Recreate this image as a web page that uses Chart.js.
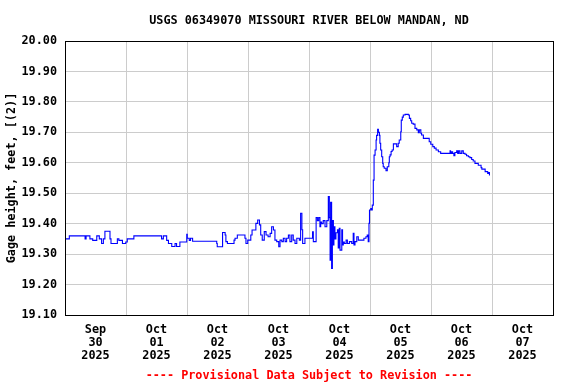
<!DOCTYPE html>
<html>
<head>
<meta charset="utf-8">
<script src="https://cdn.jsdelivr.net/npm/chart.js@4/dist/chart.umd.min.js"></script>
<style>
  html, body { margin: 0; padding: 0; background: #ffffff; }
  #wrap { width: 576px; height: 384px; }
</style>
</head>
<body>
<div id="wrap"><canvas id="grafica" width="576" height="384"></canvas></div>
<script>
// Titulos
const chartTitle = "USGS 06349070 MISSOURI RIVER BELOW MANDAN, ND";
const footerText = "---- Provisional Data Subject to Revision ----";
const yTitle = "Gage height, feet, [(2)]";

// Etiquetas de dias (centradas al mediodia)
const dayLabels = [
    ["Sep", "30", "2025"],
    ["Oct", "01", "2025"],
    ["Oct", "02", "2025"],
    ["Oct", "03", "2025"],
    ["Oct", "04", "2025"],
    ["Oct", "05", "2025"],
    ["Oct", "06", "2025"],
    ["Oct", "07", "2025"]
];

// Horas desde Sep 30 00:00
const hours = [
    0, 1.7, 7.9, 8.3, 9.8, 10.9, 12.5, 13.5, 14.4, 15.1, 15.7, 17.7, 18.1, 20.6, 21.2, 22.6, 23.9,
    24.5, 27.1, 34.1, 38.0, 38.7, 40.0, 40.7, 42.0, 43.3, 43.9, 45.2, 46.2, 47.9,
    48.1, 48.9, 49.4, 50.2, 51.5, 59.7, 59.9, 60.3, 62.0, 62.6, 63.0, 63.3, 63.9, 64.7, 66.5, 66.9,
    67.8, 68.9, 70.8, 71.2, 71.9, 72.4, 73.1, 73.6, 74.4, 75.1, 75.8, 76.5, 77.0, 77.6, 78.4, 79.1,
    79.9, 80.7, 81.3, 82.0, 82.6, 83.3, 84.1, 84.6, 85.3, 85.9, 86.6, 87.2, 87.9, 88.5, 89.2, 89.8,
    90.5, 91.2, 92.2, 92.7, 93.2, 93.5, 93.9, 94.4, 95.1,
    97.4, 97.7, 98.1, 98.8, 99.3, 99.8, 100.3, 100.6, 101.0, 101.6, 102.3, 103.0, 103.6, 104.0,
    104.3, 104.5, 104.9, 105.2, 105.6, 105.8, 106.2, 106.6, 107.2, 107.5, 107.9, 108.2, 108.9,
    109.2, 109.5, 109.9, 110.6, 111.1, 111.9, 112.8, 113.4, 113.7, 114.1, 114.8, 115.4, 115.8,
    117.6, 118.4, 118.9, 119.3, 119.6,
    119.8, 120.3, 120.7, 120.9, 121.3, 121.6, 122.0, 122.4, 122.6, 123.0, 123.3, 123.7, 123.9,
    124.2, 124.6, 125.0, 125.2, 125.6, 126.3, 126.8, 127.4, 127.6, 127.9, 128.3, 128.7, 129.2,
    129.4, 130.5, 131.1, 131.5, 132.1, 132.3, 132.7, 133.1, 133.8, 135.1, 135.5, 136.0, 136.4,
    137.0, 137.7, 138.4, 139.0, 139.4, 140.0,
    140.3, 141.0, 142.3, 143.3, 143.9, 144.7, 145.3, 146.0, 146.9, 147.8, 148.6, 151.5, 151.7,
    152.1, 152.5, 153.0, 153.4, 154.1, 154.5, 154.9, 155.4, 156.1, 156.7, 157.4, 158.0, 158.7,
    159.3, 160.0, 160.6, 161.3, 162.6, 163.7, 164.0, 165.3, 166.3, 166.6, 167.0, 167.2
];

// Altura del agua (pies)
const stage = [
    19.34, 19.35, 19.36, 19.35, 19.36, 19.35, 19.345, 19.36, 19.35, 19.335, 19.35, 19.375, 19.35, 19.335, 19.35, 19.345, 19.335,
    19.34, 19.35, 19.36, 19.36, 19.35, 19.36, 19.345, 19.335, 19.325, 19.335, 19.325, 19.34, 19.34,
    19.365, 19.352, 19.345, 19.352, 19.342, 19.342, 19.335, 19.324, 19.324, 19.371, 19.371, 19.363, 19.341, 19.335, 19.335, 19.346,
    19.352, 19.363, 19.363, 19.352, 19.335, 19.346, 19.346, 19.363, 19.379, 19.379, 19.401, 19.412, 19.396, 19.363, 19.346, 19.374,
    19.363, 19.357, 19.368, 19.39, 19.379, 19.346, 19.341, 19.324, 19.346, 19.341, 19.352, 19.341, 19.352, 19.363, 19.341, 19.363,
    19.346, 19.335, 19.352, 19.346, 19.434, 19.38, 19.335, 19.335, 19.352,
    19.352, 19.373, 19.341, 19.341, 19.42, 19.41, 19.42, 19.39, 19.405, 19.40, 19.41, 19.39, 19.41, 19.489,
    19.42, 19.28, 19.47, 19.253, 19.41, 19.33, 19.39, 19.35, 19.37, 19.38, 19.32, 19.385, 19.313,
    19.38, 19.33, 19.34, 19.335, 19.346, 19.335, 19.341, 19.335, 19.368, 19.33, 19.341, 19.357, 19.346,
    19.346, 19.352, 19.357, 19.363, 19.341,
    19.401, 19.445, 19.45, 19.445, 19.461, 19.543, 19.625, 19.642, 19.675, 19.69, 19.71, 19.70, 19.69,
    19.664, 19.642, 19.62, 19.598, 19.587, 19.582, 19.574, 19.587, 19.60, 19.62, 19.626, 19.637, 19.642,
    19.662, 19.662, 19.653, 19.664, 19.675, 19.702, 19.74, 19.75, 19.757, 19.759, 19.757, 19.746, 19.738,
    19.73, 19.727, 19.713, 19.708, 19.699, 19.708,
    19.697, 19.691, 19.68, 19.68, 19.669, 19.661, 19.653, 19.648, 19.642, 19.636, 19.631, 19.631, 19.639,
    19.631, 19.636, 19.631, 19.623, 19.634, 19.639, 19.631, 19.639, 19.631, 19.639, 19.631, 19.628, 19.623,
    19.62, 19.617, 19.611, 19.606, 19.598, 19.592, 19.584, 19.579, 19.571, 19.565, 19.568, 19.56
];

// Ejes
const xMin = 0, xMax = 192;
const yMin = 19.1, yMax = 20.0;

const fuente = { family: "'DejaVu Sans Mono', monospace", size: 11.8, weight: "bold", lineHeight: 1.07 };
const colorGrid = "#cccccc";

let puntos = [];
for (let i = 0; i < hours.length; i++) {
    puntos.push({ x: hours[i], y: stage[i] });
}

// Marco, titulo y nota en rojo
const marco = {
    id: "marco",
    beforeDraw(chart) {
        const ctx = chart.ctx;
        ctx.save();
        ctx.fillStyle = "#ffffff";
        ctx.fillRect(0, 0, chart.width, chart.height);
        ctx.restore();
    },
    afterDraw(chart) {
        const ctx = chart.ctx;
        const a = chart.chartArea;
        const cx = (a.left + a.right) / 2;
        ctx.save();
        ctx.strokeStyle = "#000000";
        ctx.lineWidth = 1;
        ctx.strokeRect(a.left + 0.5, a.top + 0.5, a.right - a.left, a.bottom - a.top);
        ctx.font = "bold 11.8px 'DejaVu Sans Mono', monospace";
        ctx.textAlign = "center";
        ctx.textBaseline = "middle";
        ctx.fillStyle = "#000000";
        ctx.fillText(chartTitle, cx, 21);
        ctx.fillStyle = "#ff0000";
        ctx.fillText(footerText, cx, 376);
        ctx.restore();
    }
};

new Chart(document.getElementById("grafica"), {
    type: "line",
    data: {
        datasets: [{
            data: puntos,
            borderColor: "#0000ff",
            borderWidth: 1.1,
            pointRadius: 0,
            stepped: "after",
            fill: false
        }]
    },
    options: {
        responsive: false,
        animation: false,
        layout: { padding: { top: 41, right: 23, bottom: 0, left: 0 } },
        plugins: {
            legend: { display: false },
            title: { display: false },
            tooltip: { enabled: false }
        },
        scales: {
            x: {
                type: "linear",
                min: xMin,
                max: xMax,
                afterFit(scale) { scale.height = 69; },
                afterBuildTicks(scale) {
                    let t = [];
                    for (let v = xMin; v <= xMax; v += 12) t.push({ value: v });
                    scale.ticks = t;
                },
                ticks: {
                    autoSkip: false,
                    maxRotation: 0,
                    minRotation: 0,
                    padding: 9,
                    color: "#000000",
                    font: fuente,
                    callback: function(value) {
                        if (value % 24 === 12) return dayLabels[(value - 12) / 24];
                        return "";
                    }
                },
                grid: {
                    drawTicks: false,
                    color: function(context) {
                        if (context.tick && context.tick.value % 24 === 0) return colorGrid;
                        return "rgba(0,0,0,0)";
                    }
                },
                border: { color: "#000000" }
            },
            y: {
                min: yMin,
                max: yMax,
                afterFit(scale) { scale.width = 65; },
                ticks: {
                    stepSize: 0.1,
                    padding: 8,
                    color: "#000000",
                    font: fuente,
                    callback: function(value) { return value.toFixed(2); }
                },
                grid: {
                    drawTicks: false,
                    color: colorGrid
                },
                border: { color: "#000000" },
                title: {
                    display: true,
                    text: yTitle,
                    color: "#000000",
                    font: fuente,
                    padding: { top: 6, bottom: 4 }
                }
            }
        }
    },
    plugins: [marco]
});
</script>
</body>
</html>
